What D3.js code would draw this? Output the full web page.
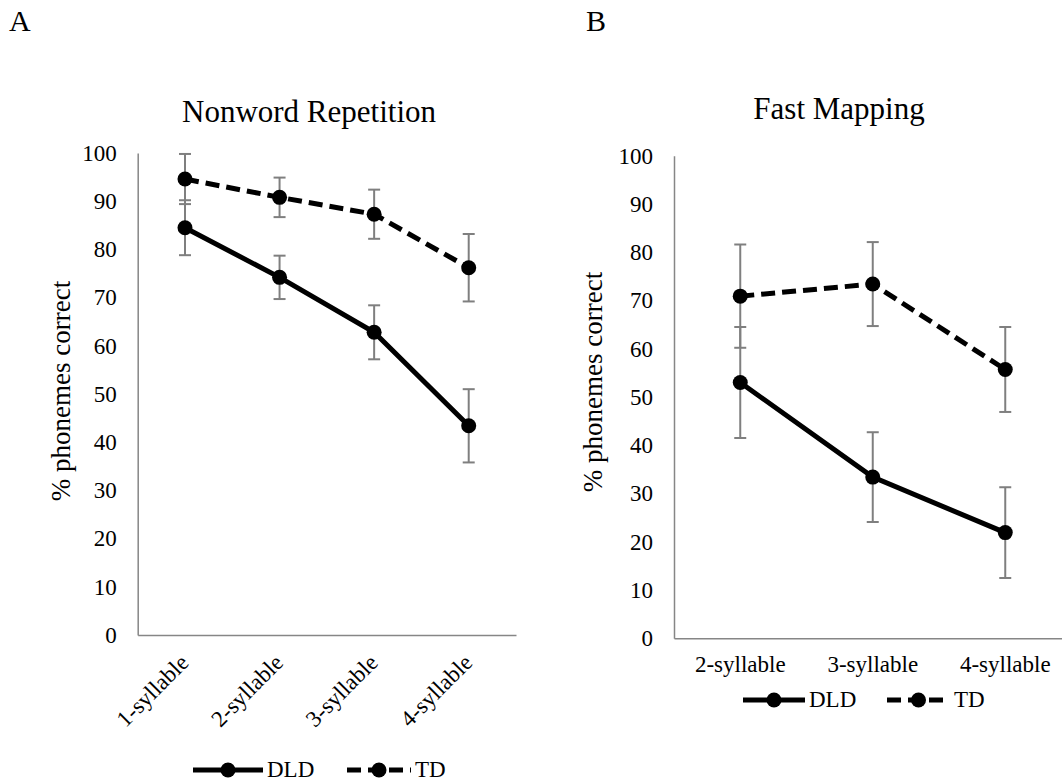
<!DOCTYPE html>
<html lang="en">
<head>
    <meta charset="UTF-8">
    <title>Nonword Repetition / Fast Mapping</title>
    <script src="https://d3js.org/d3.v7.min.js"></script>
    <style>
        body {
            margin: 0;
            background: #ffffff;
            overflow: hidden;
        }
        svg text {
            font-family: "Liberation Serif", "Times New Roman", serif;
            fill: #000;
        }
    </style>
</head>
<body>
<svg id="chart" width="1062" height="783"></svg>

<script>
    // Panel A - nonword repetition
    const nwrCategories = ["1-syllable", "2-syllable", "3-syllable", "4-syllable"];
    const nwrDLD = [84.5, 74.2, 62.8, 43.4];
    const nwrDLDErr = [5.7, 4.5, 5.6, 7.6];
    const nwrTD = [94.6, 90.8, 87.3, 76.2];
    const nwrTDErr = [5.2, 4.1, 5.1, 7.0];

    // Panel B - fast mapping
    const fmCategories = ["2-syllable", "3-syllable", "4-syllable"];
    const fmDLD = [53.0, 33.4, 21.9];
    const fmDLDErr = [11.5, 9.3, 9.4];
    const fmTD = [70.9, 73.4, 55.7];
    const fmTDErr = [10.7, 8.7, 8.8];

    const yTicks = [0, 10, 20, 30, 40, 50, 60, 70, 80, 90, 100];
    const seriesNames = ["DLD", "TD"];

    const svg = d3.select("#chart");
    const serif = '"Liberation Serif", "Times New Roman", serif';
    const axisColor = "#868686";
    const errColor = "#7f7f7f";
    const dash = "14,7";

    function label(sel, size) {
        return sel.style("font-family", serif).style("font-size", size + "px");
    }

    function drawPanel(p) {
        const g = svg.append("g");

        const x = d3.scaleBand().domain(p.categories).range([p.left, p.right]).padding(0);
        const y = d3.scaleLinear().domain([0, 100]).range([p.bottom, p.top]);
        const cx = c => x(c) + x.bandwidth() / 2;

        // y axis
        const yAxis = g.append("g")
            .attr("transform", `translate(${p.left},0)`)
            .call(d3.axisLeft(y).tickValues(yTicks).tickSize(0).tickPadding(21));
        yAxis.attr("font-family", null);
        yAxis.select(".domain").attr("stroke", axisColor).attr("stroke-width", 1.5);
        label(yAxis.selectAll("text"), 23);

        // x axis
        const xAxis = g.append("g")
            .attr("transform", `translate(0,${p.bottom})`)
            .call(d3.axisBottom(x).tickSize(0).tickFormat(""));
        xAxis.select(".domain").attr("stroke", axisColor).attr("stroke-width", 1.5);

        if (p.rotate) {
            label(g.selectAll(".xlab").data(p.categories).enter().append("text")
                .attr("transform", d => `translate(${cx(d) + 5},${p.bottom + 29}) rotate(-45)`)
                .attr("text-anchor", "end")
                .text(d => d), 23);
        } else {
            label(g.selectAll(".xlab").data(p.categories).enter().append("text")
                .attr("x", d => cx(d))
                .attr("y", p.bottom + 34)
                .attr("text-anchor", "middle")
                .text(d => d), 23);
        }

        const series = [
            { vals: p.dld, err: p.dldErr, dash: null },
            { vals: p.td, err: p.tdErr, dash: dash }
        ];

        // error bars
        series.forEach(s => {
            p.categories.forEach((c, i) => {
                const xc = cx(c);
                const hi = y(s.vals[i] + s.err[i]);
                const lo = y(s.vals[i] - s.err[i]);
                g.append("line").attr("x1", xc).attr("x2", xc).attr("y1", hi).attr("y2", lo)
                    .attr("stroke", errColor).attr("stroke-width", 2);
                [hi, lo].forEach(yy => {
                    g.append("line").attr("x1", xc - 6).attr("x2", xc + 6).attr("y1", yy).attr("y2", yy)
                        .attr("stroke", errColor).attr("stroke-width", 2);
                });
            });
        });

        // lines + markers
        series.forEach(s => {
            const line = d3.line().x((d, i) => cx(p.categories[i])).y(d => y(d));
            g.append("path").datum(s.vals)
                .attr("d", line)
                .attr("fill", "none")
                .attr("stroke", "#000")
                .attr("stroke-width", 5)
                .attr("stroke-dasharray", s.dash);
            g.selectAll(null).data(s.vals).enter().append("circle")
                .attr("cx", (d, i) => cx(p.categories[i]))
                .attr("cy", d => y(d))
                .attr("r", 7.5)
                .attr("fill", "#000");
        });

        // titles
        label(g.append("text")
            .attr("x", p.titleX).attr("y", p.titleY)
            .attr("text-anchor", "middle")
            .text(p.title), 31);
        label(g.append("text")
            .attr("transform", `translate(${p.ylabX},${p.ylabY}) rotate(-90)`)
            .attr("text-anchor", "middle")
            .text("% phonemes correct"), 27);
        label(g.append("text")
            .attr("x", p.letterX).attr("y", 31)
            .text(p.letter), 30);

        // legend
        p.legend.forEach((l, i) => {
            g.append("line")
                .attr("x1", l.x1).attr("x2", l.x2).attr("y1", p.legendY).attr("y2", p.legendY)
                .attr("stroke", "#000").attr("stroke-width", 5)
                .attr("stroke-dasharray", i === 1 ? dash : null);
            g.append("circle").attr("cx", (l.x1 + l.x2) / 2).attr("cy", p.legendY).attr("r", 7.5).attr("fill", "#000");
            label(g.append("text").attr("x", l.x2 + 4).attr("y", p.legendY + 7)
                .text(seriesNames[i]), 23);
        });
    }

    drawPanel({
        categories: nwrCategories, dld: nwrDLD, dldErr: nwrDLDErr, td: nwrTD, tdErr: nwrTDErr,
        left: 137.7, right: 516, top: 153, bottom: 635, rotate: true,
        title: "Nonword Repetition", titleX: 309, titleY: 122,
        ylabX: 70, ylabY: 391, letter: "A", letterX: 9,
        legendY: 770, legend: [{ x1: 193, x2: 263 }, { x1: 347, x2: 411 }]
    });

    drawPanel({
        categories: fmCategories, dld: fmDLD, dldErr: fmDLDErr, td: fmTD, tdErr: fmTDErr,
        left: 674, right: 1071.5, top: 155.7, bottom: 638.3, rotate: false,
        title: "Fast Mapping", titleX: 839, titleY: 119,
        ylabX: 602, ylabY: 382, letter: "B", letterX: 586,
        legendY: 700, legend: [{ x1: 743, x2: 805 }, { x1: 887, x2: 950 }]
    });
</script>
</body>
</html>
